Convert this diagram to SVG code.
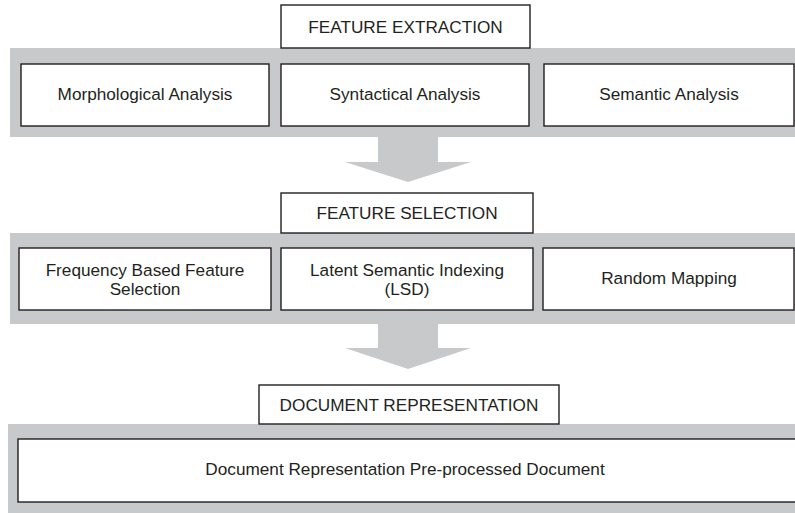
<svg xmlns="http://www.w3.org/2000/svg" width="795" height="513" viewBox="0 0 795 513">
<style>
.band{fill:#c8c9cb}
.box{fill:#fff;stroke:#231f20;stroke-width:1.4}
.t{font-family:"Liberation Sans",Arial,sans-serif;font-size:17.2px;fill:#231f20;text-anchor:middle}
.arrow{fill:#c8c9cb}
</style>
<rect width="795" height="513" fill="#fff"/>
<g id="bands">
<rect class="band" x="10" y="48" width="790" height="89"/>
<rect class="band" x="10" y="233" width="790" height="91"/>
<rect class="band" x="8" y="424" width="792" height="95"/>
</g>
<g id="connectors">
<polygon class="arrow" points="378,137 438,137 438,162 471,162 408,182 345,162 378,162"/>
<polygon class="arrow" points="378,324 438,324 438,348 471,348 408,369 345,348 378,348"/>
</g>
<g id="feature-extraction">
<rect class="box" x="281" y="5" width="249" height="43"/>
<text class="t" x="405.5" y="33">FEATURE EXTRACTION</text>
</g>
<g id="morphological">
<rect class="box" x="21" y="64" width="248" height="62"/>
<text class="t" x="145" y="100">Morphological Analysis</text>
</g>
<g id="syntactical">
<rect class="box" x="281" y="64" width="248" height="62"/>
<text class="t" x="405" y="100">Syntactical Analysis</text>
</g>
<g id="semantic">
<rect class="box" x="544" y="64" width="250" height="62"/>
<text class="t" x="669" y="100">Semantic Analysis</text>
</g>
<g id="feature-selection">
<rect class="box" x="281" y="193" width="252" height="40"/>
<text class="t" x="407" y="219">FEATURE SELECTION</text>
</g>
<g id="frequency">
<rect class="box" x="19" y="248" width="252" height="62"/>
<text class="t" x="145" y="276">Frequency Based Feature</text>
<text class="t" x="145" y="295">Selection</text>
</g>
<g id="lsi">
<rect class="box" x="281" y="248" width="252" height="62"/>
<text class="t" x="407" y="276">Latent Semantic Indexing</text>
<text class="t" x="407" y="295">(LSD)</text>
</g>
<g id="random">
<rect class="box" x="543" y="248" width="251" height="62"/>
<text class="t" x="669" y="284">Random Mapping</text>
</g>
<g id="document-representation">
<rect class="box" x="259" y="385" width="300" height="39"/>
<text class="t" x="409" y="411">DOCUMENT REPRESENTATION</text>
</g>
<g id="document">
<rect class="box" x="18" y="439" width="790" height="63"/>
<text class="t" x="405" y="475">Document Representation Pre-processed Document</text>
</g>
</svg>
